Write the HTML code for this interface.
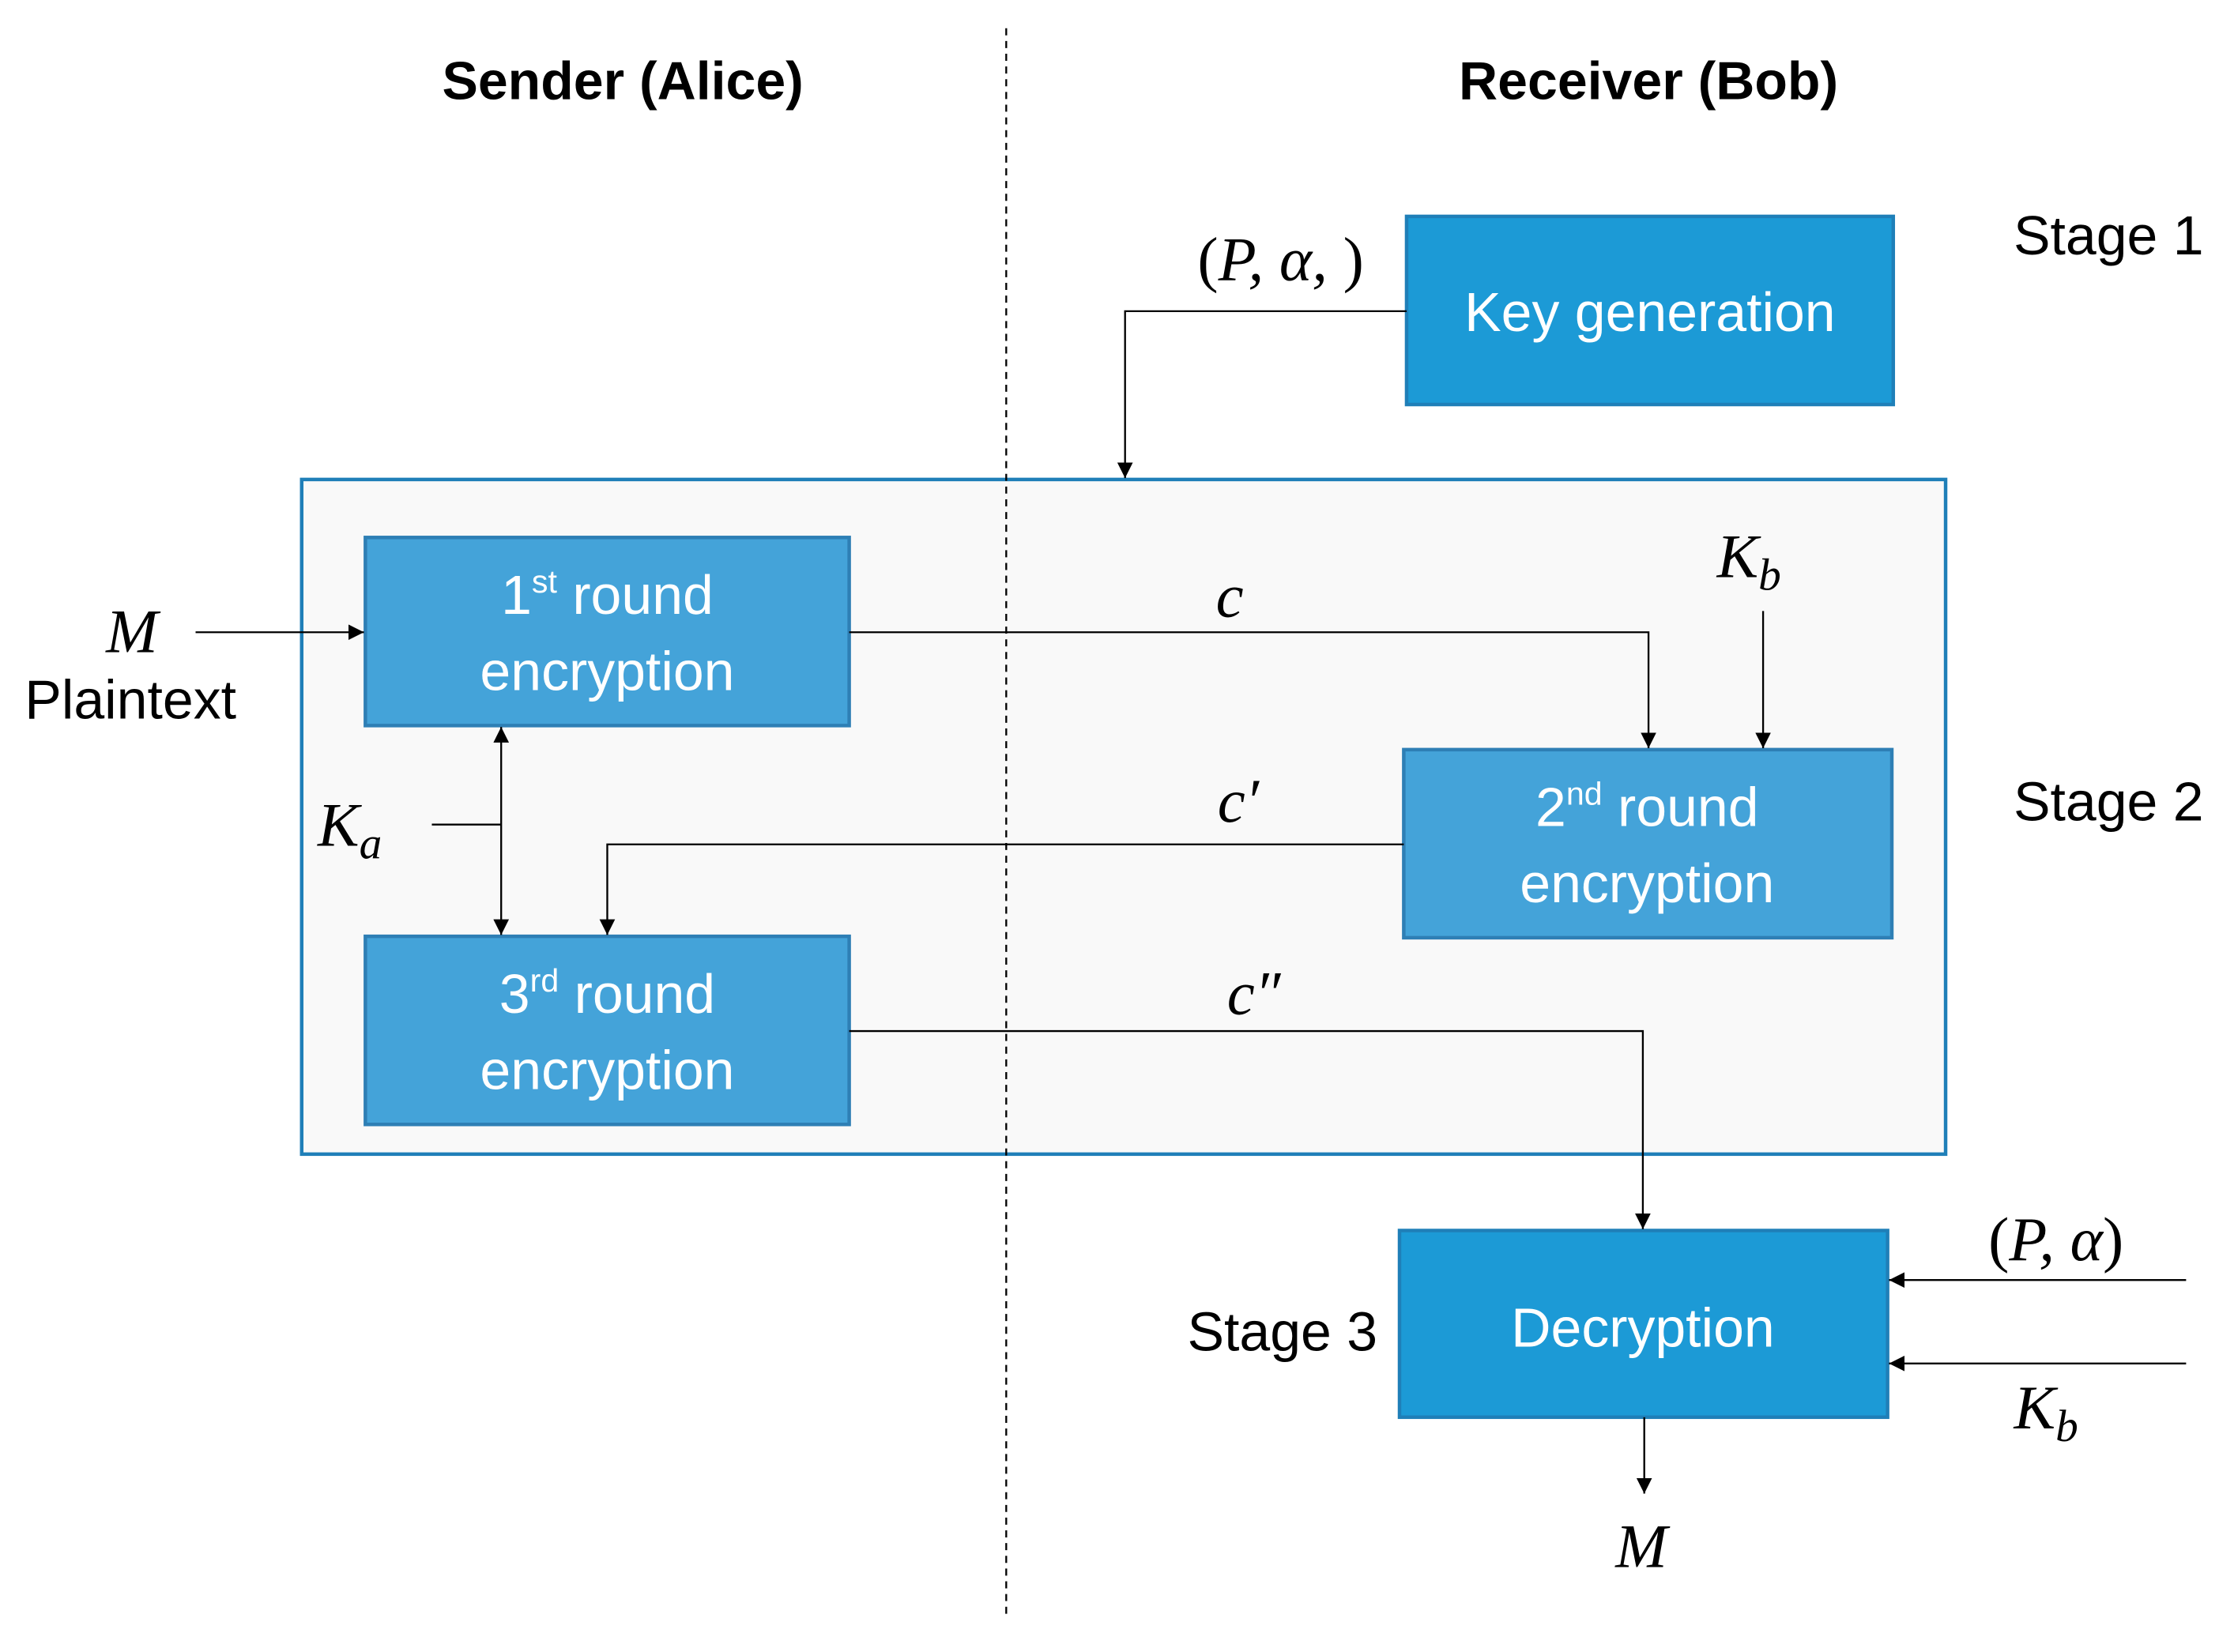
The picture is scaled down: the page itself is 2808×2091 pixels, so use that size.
<!DOCTYPE html>
<html><head><meta charset="utf-8"><style>
html,body{margin:0;padding:0;background:#fff;}
svg{display:block;}
.t{font-family:"Liberation Sans",sans-serif;}
.m{font-family:"Liberation Serif",serif;font-style:italic;}
</style></head><body>
<svg width="2808" height="2091" viewBox="0 0 1568 1168" xmlns="http://www.w3.org/2000/svg">
<defs>
<marker id="a" viewBox="0 0 10 10" refX="10" refY="5" markerWidth="11" markerHeight="11" markerUnits="userSpaceOnUse" orient="auto-start-reverse"><path d="M0,0L10,5L0,10z" fill="#000"/></marker>
</defs>
<rect width="1568" height="1168" fill="#fff"/>
<rect x="213" y="339" width="1162" height="477" fill="#f9f9f9" stroke="#1f7fb8" stroke-width="2.5"/>
<line x1="711" y1="20" x2="711" y2="1145" stroke="#000" stroke-width="1.3" stroke-dasharray="5,4"/>
<g class="t" font-weight="bold" font-size="38" text-anchor="middle">
<text x="440" y="70">Sender (Alice)</text>
<text x="1165" y="70">Receiver (Bob)</text>
</g>
<rect x="994" y="153" width="344" height="133" fill="#1c9ad6" stroke="#1f7fb8" stroke-width="2.5"/>
<rect x="258" y="380" width="342" height="133" fill="#44a3d9" stroke="#2e7fb5" stroke-width="2.5"/>
<rect x="992" y="530" width="345" height="133" fill="#44a3d9" stroke="#2e7fb5" stroke-width="2.5"/>
<rect x="258" y="662" width="342" height="133" fill="#44a3d9" stroke="#2e7fb5" stroke-width="2.5"/>
<rect x="989" y="870" width="345" height="132" fill="#1c9ad6" stroke="#1f7fb8" stroke-width="2.5"/>
<g class="t" fill="#fff" font-size="39" text-anchor="middle">
<text x="1166" y="234">Key generation</text>
<text x="429" y="434">1<tspan font-size="23" dy="-15">st</tspan><tspan dy="15"> round</tspan></text>
<text x="429" y="488">encryption</text>
<text x="1164" y="584">2<tspan font-size="23" dy="-15">nd</tspan><tspan dy="15"> round</tspan></text>
<text x="1164" y="638">encryption</text>
<text x="429" y="716">3<tspan font-size="23" dy="-15">rd</tspan><tspan dy="15"> round</tspan></text>
<text x="429" y="770">encryption</text>
<text x="1161" y="952">Decryption</text>
</g>
<g class="t" font-size="39">
<text x="1423" y="180">Stage 1</text>
<text x="1423" y="580">Stage 2</text>
<text x="839" y="955">Stage 3</text>
<text x="92" y="508" text-anchor="middle">Plaintext</text>
</g>
<g class="m" font-size="44" text-anchor="middle">
<text x="905" y="198"><tspan font-style="normal">(</tspan>P, α, <tspan font-style="normal">)</tspan></text>
<text x="93" y="461">M</text>
<text x="869" y="436">c</text>
<text x="1236" y="408">K<tspan font-size="32" dy="9">b</tspan></text>
<text x="875" y="581">c′</text>
<text x="247" y="598">K<tspan font-size="32" dy="9">a</tspan></text>
<text x="886" y="717">c″</text>
<text x="1453" y="891"><tspan font-style="normal">(</tspan>P, α<tspan font-style="normal">)</tspan></text>
<text x="1446" y="1010">K<tspan font-size="32" dy="9">b</tspan></text>
<text x="1160" y="1108">M</text>
</g>
<g stroke="#000" stroke-width="1.3" fill="none">
<polyline points="994,220 795,220 795,338" marker-end="url(#a)"/>
<line x1="138" y1="447" x2="257" y2="447" marker-end="url(#a)"/>
<polyline points="600,447 1165,447 1165,529" marker-end="url(#a)"/>
<line x1="1246" y1="432" x2="1246" y2="529" marker-end="url(#a)"/>
<polyline points="992,597 429,597 429,661" marker-end="url(#a)"/>
<line x1="305" y1="583" x2="354" y2="583"/>
<line x1="354" y1="514" x2="354" y2="661" marker-start="url(#a)" marker-end="url(#a)"/>
<polyline points="600,729 1161,729 1161,869" marker-end="url(#a)"/>
<line x1="1545" y1="905" x2="1335" y2="905" marker-end="url(#a)"/>
<line x1="1545" y1="964" x2="1335" y2="964" marker-end="url(#a)"/>
<line x1="1162" y1="1002" x2="1162" y2="1056" marker-end="url(#a)"/>
</g>
</svg>
</body></html>
